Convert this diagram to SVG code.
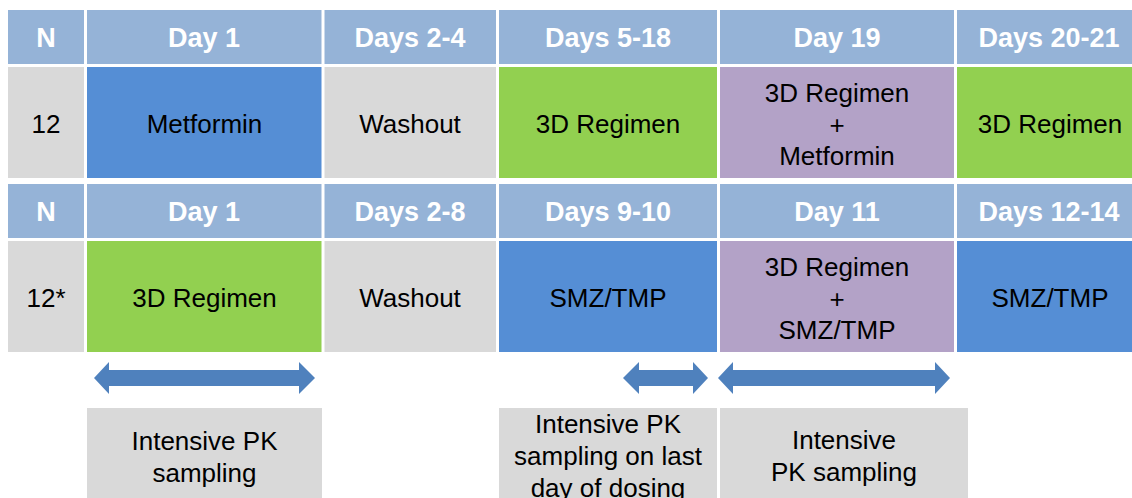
<svg xmlns="http://www.w3.org/2000/svg" width="1132" height="498" viewBox="0 0 1132 498">
<style>
.hd{fill:#95B3D7}
.gr{fill:#D9D9D9}
.bl{fill:#558ED5}
.gn{fill:#92D050}
.pu{fill:#B3A2C7}
.ht{font-family:"Liberation Sans",Arial,sans-serif;font-weight:bold;font-size:27px;fill:#FFFFFF;text-anchor:middle}
.bt{font-family:"Liberation Sans",Arial,sans-serif;font-size:26px;fill:#000000;text-anchor:middle}
.arr{fill:#4F81BD}
</style>
<rect width="1132" height="498" fill="#FFFFFF"/>
<!-- Row 1 header -->
<g id="h1-n"><rect class="hd" x="8" y="10" width="76" height="54"/><text class="ht" x="46" y="47">N</text></g>
<g id="h1-day1"><rect class="hd" x="87" y="10" width="234.5" height="54"/><text class="ht" x="204" y="47">Day 1</text></g>
<g id="h1-days2-4"><rect class="hd" x="324.5" y="10" width="171.5" height="54"/><text class="ht" x="410" y="47">Days 2-4</text></g>
<g id="h1-days5-18"><rect class="hd" x="499" y="10" width="218" height="54"/><text class="ht" x="608" y="47">Days 5-18</text></g>
<g id="h1-day19"><rect class="hd" x="720" y="10" width="234" height="54"/><text class="ht" x="837" y="47">Day 19</text></g>
<g id="h1-days20-21"><rect class="hd" x="957" y="10" width="175" height="54"/><text class="ht" x="1049" y="47">Days 20-21</text></g>
<!-- Row 1 body -->
<g id="b1-n"><rect class="gr" x="8" y="67" width="76" height="111"/><text class="bt" x="46" y="133">12</text></g>
<g id="b1-day1"><rect class="bl" x="87" y="67" width="234.5" height="111"/><text class="bt" x="204.5" y="133">Metformin</text></g>
<g id="b1-days2-4"><rect class="gr" x="324.5" y="67" width="171.5" height="111"/><text class="bt" x="410" y="133">Washout</text></g>
<g id="b1-days5-18"><rect class="gn" x="499" y="67" width="218" height="111"/><text class="bt" x="608" y="133">3D Regimen</text></g>
<g id="b1-day19"><rect class="pu" x="720" y="67" width="234" height="111"/><text class="bt" x="837" y="102">3D Regimen</text><text class="bt" x="837" y="133.5">+</text><text class="bt" x="837" y="165">Metformin</text></g>
<g id="b1-days20-21"><rect class="gn" x="957" y="67" width="175" height="111"/><text class="bt" x="1050" y="133">3D Regimen</text></g>
<!-- Row 2 header -->
<g id="h2-n"><rect class="hd" x="8" y="184" width="76" height="54"/><text class="ht" x="46" y="221">N</text></g>
<g id="h2-day1"><rect class="hd" x="87" y="184" width="234.5" height="54"/><text class="ht" x="204" y="221">Day 1</text></g>
<g id="h2-days2-8"><rect class="hd" x="324.5" y="184" width="171.5" height="54"/><text class="ht" x="410" y="221">Days 2-8</text></g>
<g id="h2-days9-10"><rect class="hd" x="499" y="184" width="218" height="54"/><text class="ht" x="608" y="221">Days 9-10</text></g>
<g id="h2-day11"><rect class="hd" x="720" y="184" width="234" height="54"/><text class="ht" x="837" y="221">Day 11</text></g>
<g id="h2-days12-14"><rect class="hd" x="957" y="184" width="175" height="54"/><text class="ht" x="1049" y="221">Days 12-14</text></g>
<!-- Row 2 body -->
<g id="b2-n"><rect class="gr" x="8" y="241" width="76" height="111"/><text class="bt" x="46" y="307">12*</text></g>
<g id="b2-day1"><rect class="gn" x="87" y="241" width="234.5" height="111"/><text class="bt" x="204.5" y="307">3D Regimen</text></g>
<g id="b2-days2-8"><rect class="gr" x="324.5" y="241" width="171.5" height="111"/><text class="bt" x="410" y="307">Washout</text></g>
<g id="b2-days9-10"><rect class="bl" x="499" y="241" width="218" height="111"/><text class="bt" x="608" y="307">SMZ/TMP</text></g>
<g id="b2-day11"><rect class="pu" x="720" y="241" width="234" height="111"/><text class="bt" x="837" y="276">3D Regimen</text><text class="bt" x="837" y="307.5">+</text><text class="bt" x="837" y="339">SMZ/TMP</text></g>
<g id="b2-days12-14"><rect class="bl" x="957" y="241" width="175" height="111"/><text class="bt" x="1050" y="307">SMZ/TMP</text></g>
<!-- Arrows -->
<g id="connectors">
<path class="arr" d="M94,378 L109,362 L109,370 L299,370 L299,362 L315,378 L299,394 L299,386 L109,386 L109,394 Z"/>
<path class="arr" d="M623,378 L639,362 L639,370 L693,370 L693,362 L708,378 L693,394 L693,386 L639,386 L639,394 Z"/>
<path class="arr" d="M718,378 L733,362 L733,370 L935,370 L935,362 L950,378 L935,394 L935,386 L733,386 L733,394 Z"/>
</g>
<!-- Bottom boxes -->
<g id="pk-1"><rect class="gr" x="87" y="408" width="235" height="92"/><text class="bt" x="204.5" y="450">Intensive PK</text><text class="bt" x="204.5" y="481.5">sampling</text></g>
<g id="pk-2"><rect class="gr" x="499" y="408" width="218" height="92"/><text class="bt" x="608" y="433">Intensive PK</text><text class="bt" x="608" y="465">sampling on last</text><text class="bt" x="608" y="497">day of dosing</text></g>
<g id="pk-3"><rect class="gr" x="720" y="408" width="248" height="92"/><text class="bt" x="844" y="449">Intensive</text><text class="bt" x="844" y="480.5">PK sampling</text></g>
</svg>
